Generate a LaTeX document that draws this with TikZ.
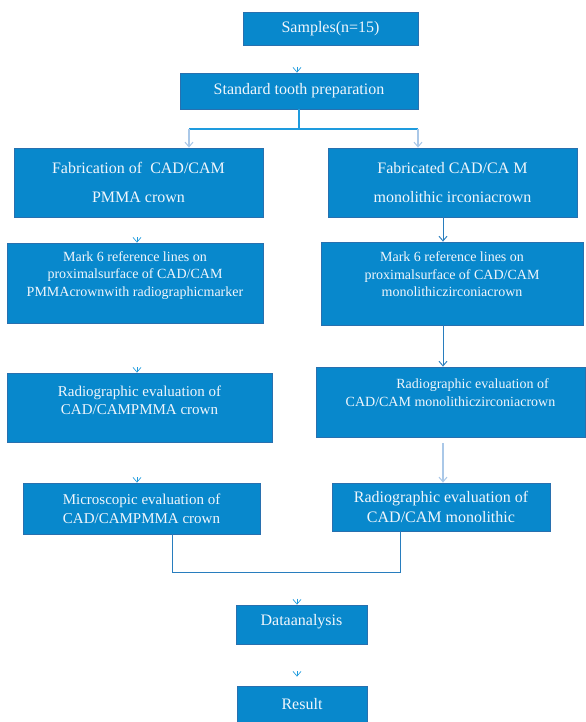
\documentclass[tikz,border=0pt]{standalone}
\usepackage{fontspec}
\setmainfont{Liberation Serif}
\usetikzlibrary{arrows.meta,calc}
\definecolor{boxfill}{RGB}{8,136,204}
\definecolor{boxline}{RGB}{40,112,175}
\definecolor{txt}{RGB}{240,246,252}
\definecolor{linkblue}{RGB}{30,155,222}
\definecolor{faint}{RGB}{170,200,232}
\definecolor{darklink}{RGB}{40,125,190}
\begin{document}
\begin{tikzpicture}[x=0.75pt,y=-0.75pt,
  box/.style={draw=boxline, line width=0.6pt, fill=boxfill, text=txt, align=center, inner sep=0pt},
  fbig/.style={font=\fontsize{12}{21.75}\selectfont},
  fmid/.style={font=\fontsize{11.25}{14}\selectfont},
  fsmall/.style={font=\fontsize{10.5}{13.2}\selectfont},
  chev/.style={-{Straight Barb[length=3.5pt,width=6pt]}, draw=linkblue, line width=0.5pt},
  mainline/.style={draw=linkblue, line width=0.8pt},
  faintarrow/.style={-{Straight Barb[length=3.5pt,width=6pt]}, draw=faint, line width=0.8pt},
  darkarrow/.style={-{Straight Barb[length=3.5pt,width=6pt]}, draw=darklink, line width=0.7pt},
  mergeline/.style={draw=darklink, line width=0.7pt}]
\useasboundingbox (0,0) rectangle (586,722);

\node[box, fbig, minimum width=131.25pt, minimum height=24.75pt] (samples) at (330.5,28.5) {Samples(n=15)};
\node[box, fbig, minimum width=178.5pt, minimum height=27pt] (std) at (299,91) {Standard tooth preparation};
\node[box, fbig, minimum width=186.75pt, minimum height=51.75pt] (fabL) at (138.5,182.5) {Fabrication of\ \ CAD/CAM\\PMMA crown};
\node[box, fbig, minimum width=186.75pt, minimum height=51.75pt] (fabR) at (452.5,182.5) {Fabricated CAD/CA M\\monolithic irconiacrown};
\node[box, fsmall, minimum width=192pt, minimum height=60pt, text depth=14pt] (markL) at (135,283) {Mark 6 reference lines on\\proximalsurface of CAD/CAM\\PMMAcrownwith radiographicmarker};
\node[box, fsmall, minimum width=196.5pt, minimum height=62.25pt, text depth=14pt] (markR) at (452,283.5) {Mark 6 reference lines on\\proximalsurface of CAD/CAM\\monolithiczirconiacrown};
\node[box, fmid, minimum width=198.75pt, minimum height=51.75pt, text depth=11pt] (radL) at (139.5,407.5) {Radiographic evaluation of\\CAD/CAMPMMA crown};
\node[box, fsmall, minimum width=201.75pt, minimum height=52.5pt, text depth=14pt] (radR) at (450.5,402) {\hspace*{33pt}Radiographic evaluation of\\CAD/CAM monolithiczirconiacrown};
\node[box, fmid, minimum width=177.75pt, minimum height=38.25pt] (micL) at (141.5,508.5) {Microscopic evaluation of\\CAD/CAMPMMA crown};
\node[box, fbig, font=\fontsize{12}{15}\selectfont, minimum width=163.5pt, minimum height=36pt] (finR) at (441,507) {Radiographic evaluation of\\CAD/CAM monolithic};
\node[box, fbig, minimum width=98.25pt, minimum height=29.25pt, text depth=7pt] (data) at (301.5,624.5) {Dataanalysis};
\node[box, fbig, minimum width=97.5pt, minimum height=27pt] (result) at (302,704) {Result};

\coordinate (bl) at (189,129);
\coordinate (br) at (418,129);
\coordinate (rx) at (443,0);
\coordinate (lx) at (137,0);
\coordinate (ml) at (172,572);
\coordinate (mr) at (400,572);
\coordinate (cx) at (297,0);

% samples -> standard
\draw[chev, shorten <=16pt] (samples.south -| cx) -- (std.north -| cx);
% standard -> branches
\draw[mainline] (std.south) -- (std.south |- bl);
\draw[mainline] (bl) -- (br);
\draw[faintarrow] (bl) -- (bl |- fabL.north);
\draw[faintarrow] (br) -- (br |- fabR.north);
% left column
\draw[chev, shorten <=15pt] (fabL.south -| lx) -- (markL.north -| lx);
\draw[chev, shorten <=33pt] (markL.south -| lx) -- (radL.north -| lx);
\draw[chev, shorten <=26pt] (radL.south -| lx) -- (micL.north -| lx);
% right column
\draw[darkarrow] (fabR.south -| rx) -- (markR.north -| rx);
\draw[darkarrow] (markR.south -| rx) -- (radR.north -| rx);
\draw[faintarrow, shorten <=4.5pt] (radR.south -| rx) -- (finR.north -| rx);
% merge
\draw[mergeline] (micL.south -| ml) -- (ml) -- (mr) -- (finR.south -| mr);
\draw[chev, shorten <=20pt] (ml -| cx) -- (data.north -| cx);
\draw[chev, shorten <=20pt, shorten >=6.75pt] (data.south -| cx) -- (result.north -| cx);
\end{tikzpicture}
\end{document}
